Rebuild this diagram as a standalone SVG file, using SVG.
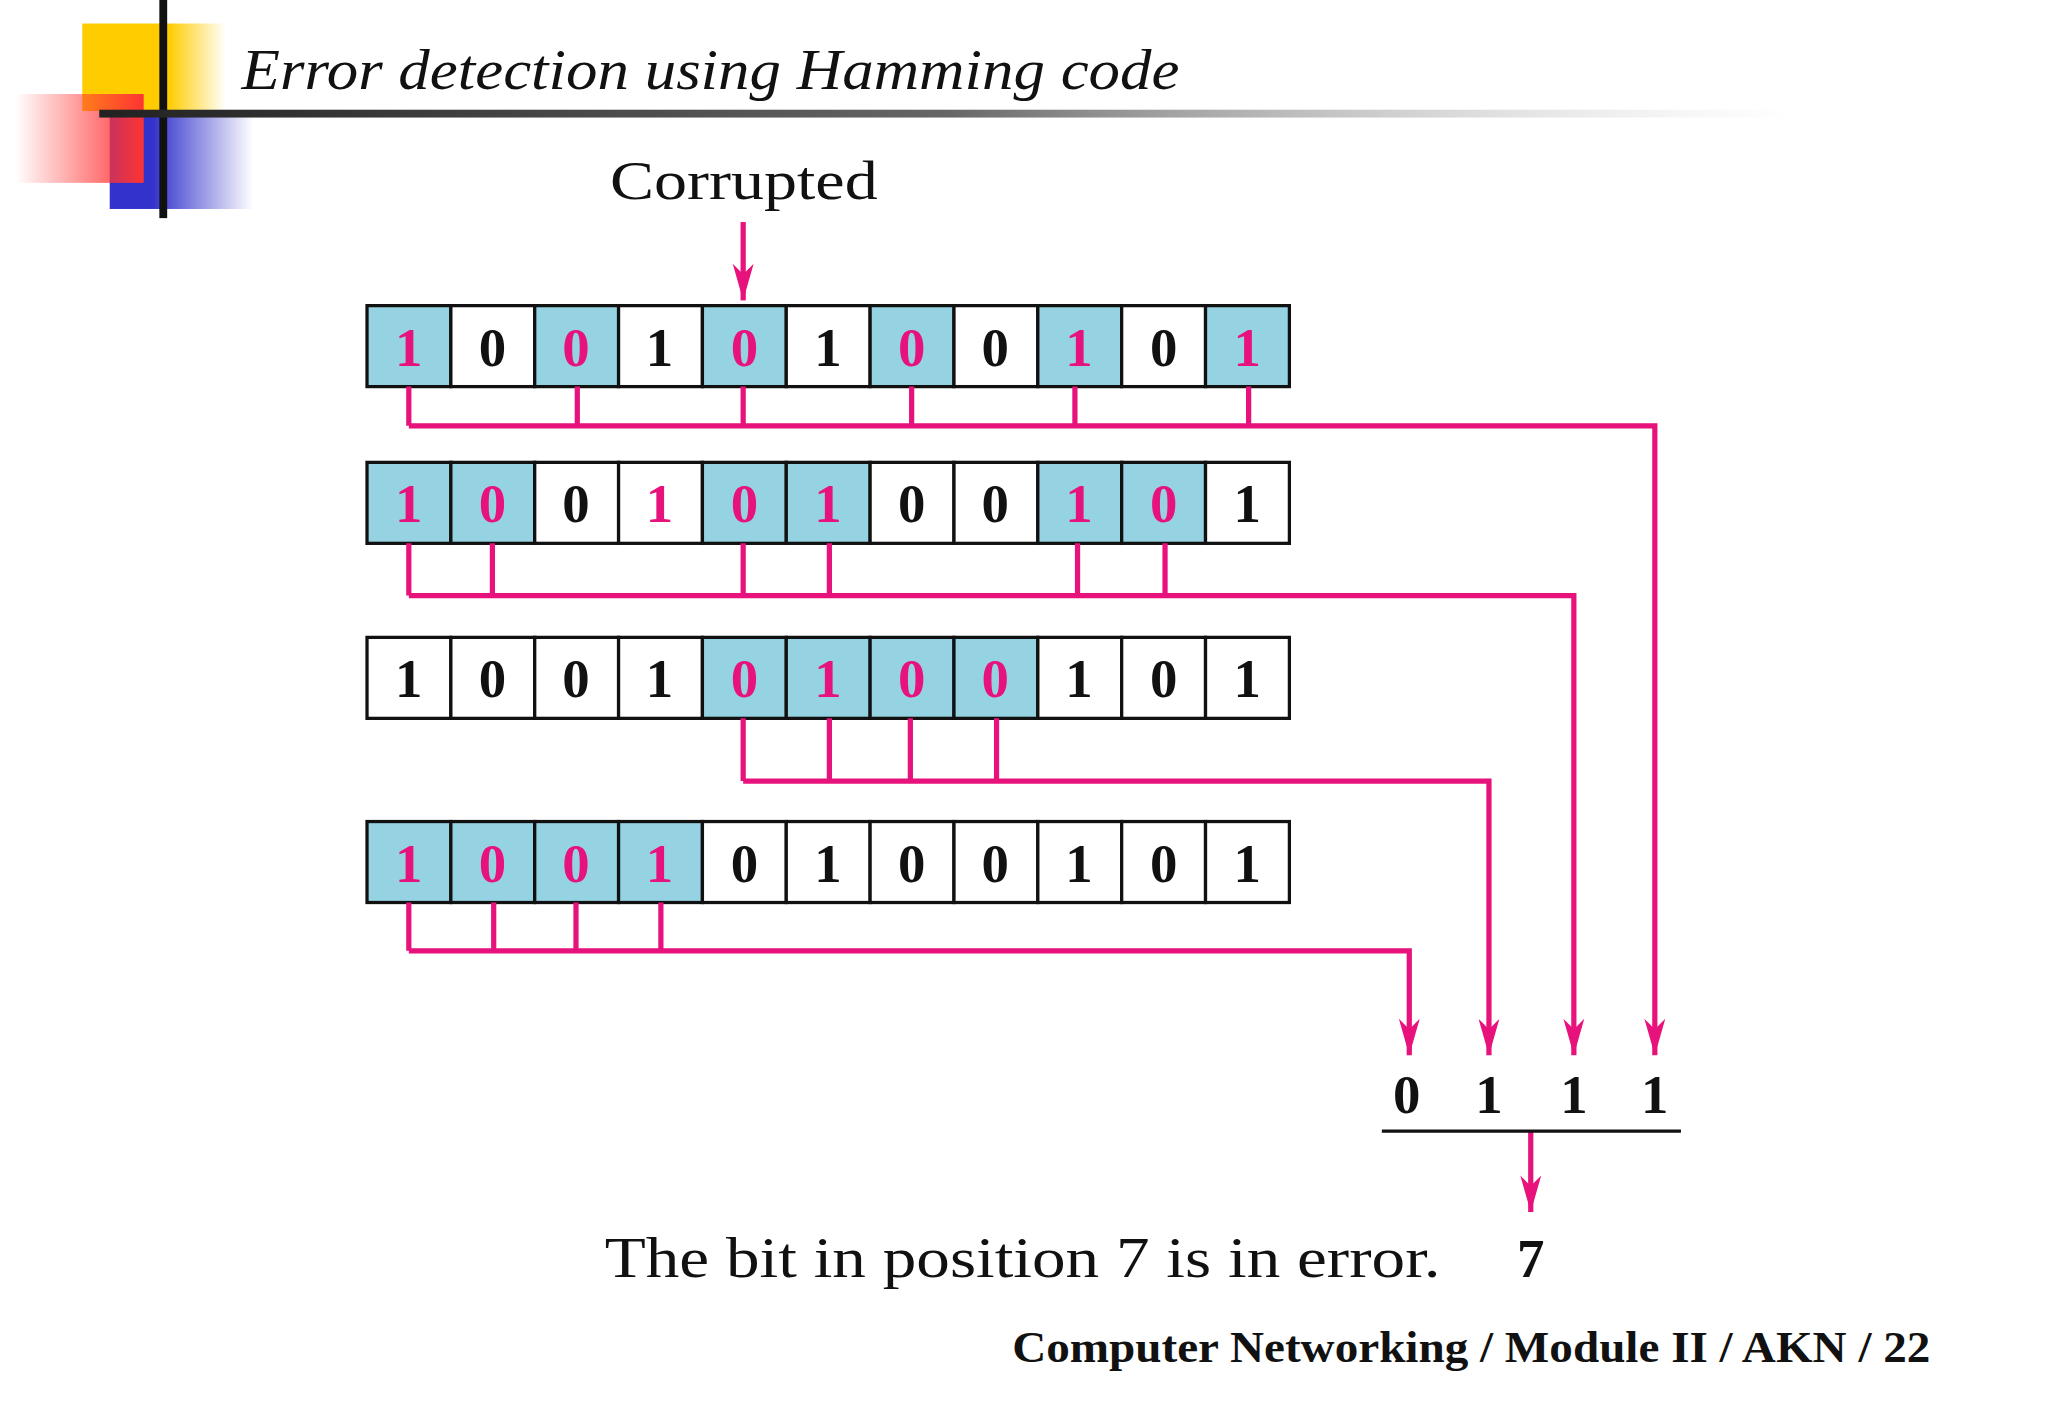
<svg xmlns="http://www.w3.org/2000/svg" width="2048" height="1418" viewBox="0 0 2048 1418">
<defs>
<style>
.c{stroke:#111;stroke-width:2.5}
.h{fill:#96d3e2}.w{fill:#fff}
.d{font-family:"Liberation Serif",serif;font-weight:bold;font-size:42px;text-anchor:middle}
.p{fill:#e8127c}.k{fill:#111}
.ln{fill:none;stroke:#e8127c;stroke-width:4}
</style>
<marker id="ad" viewBox="0 0 16 28" refX="8" refY="28" markerWidth="16" markerHeight="28" markerUnits="userSpaceOnUse"><path d="M0,0 L8,8 L16,0 L8,28 Z" fill="#e8127c"/></marker>
<linearGradient id="gr" x1="0" x2="1"><stop offset="0" stop-color="#f33"/><stop offset="1" stop-color="#f33" stop-opacity="0"/></linearGradient>
<linearGradient id="gb" x1="0" x2="1"><stop offset="0.3" stop-color="#3333cc"/><stop offset="1" stop-color="#3333cc" stop-opacity="0"/></linearGradient>
<linearGradient id="gy" x1="0" x2="1"><stop offset="0.6" stop-color="#ffcc00"/><stop offset="1" stop-color="#ffcc00" stop-opacity="0"/></linearGradient>
<linearGradient id="gl" x1="0" x2="1"><stop offset="0" stop-color="#222"/><stop offset="0.5" stop-color="#666"/><stop offset="1" stop-color="#ccc" stop-opacity="0"/></linearGradient>
</defs>
<rect width="2048" height="1418" fill="#fff"/>
<g transform="scale(1.3061)">
<g id="deco">
<rect x="63" y="18" width="110" height="67" fill="url(#gy)"/>
<rect x="84" y="85" width="110" height="75" fill="url(#gb)"/>
<rect x="12" y="72" width="98" height="68" fill="url(#gr)" transform="matrix(-1 0 0 1 122 0)"/>
<rect x="122" y="0" width="6" height="167" fill="#111"/>
<rect x="76" y="84" width="1300" height="6" fill="url(#gl)"/>
</g>
<text id="title" x="185" y="68" font-family="Liberation Serif,serif" font-style="italic" font-size="44" fill="#111" textLength="718" lengthAdjust="spacingAndGlyphs">Error detection using Hamming code</text>
<text id="corrupted" x="467" y="152" font-family="Liberation Serif,serif" font-size="42" fill="#111" textLength="205" lengthAdjust="spacingAndGlyphs">Corrupted</text>
<g id="row1">
<rect x="281" y="234" width="64.2" height="62" class="c h"/><rect x="345.2" y="234" width="64.2" height="62" class="c w"/><rect x="409.4" y="234" width="64.2" height="62" class="c h"/><rect x="473.6" y="234" width="64.2" height="62" class="c w"/><rect x="537.8" y="234" width="64.2" height="62" class="c h"/><rect x="602" y="234" width="64.2" height="62" class="c w"/><rect x="666.2" y="234" width="64.2" height="62" class="c h"/><rect x="730.4" y="234" width="64.2" height="62" class="c w"/><rect x="794.6" y="234" width="64.2" height="62" class="c h"/><rect x="858.8" y="234" width="64.2" height="62" class="c w"/><rect x="923" y="234" width="64.2" height="62" class="c h"/>
<text y="280" class="d"><tspan x="313" class="p">1</tspan><tspan x="377" class="k">0</tspan><tspan x="441" class="p">0</tspan><tspan x="505" class="k">1</tspan><tspan x="570" class="p">0</tspan><tspan x="634" class="k">1</tspan><tspan x="698" class="p">0</tspan><tspan x="762" class="k">0</tspan><tspan x="826" class="p">1</tspan><tspan x="891" class="k">0</tspan><tspan x="955" class="p">1</tspan></text>
</g>
<g id="row2">
<rect x="281" y="354" width="64.2" height="62" class="c h"/><rect x="345.2" y="354" width="64.2" height="62" class="c h"/><rect x="409.4" y="354" width="64.2" height="62" class="c w"/><rect x="473.6" y="354" width="64.2" height="62" class="c w"/><rect x="537.8" y="354" width="64.2" height="62" class="c h"/><rect x="602" y="354" width="64.2" height="62" class="c h"/><rect x="666.2" y="354" width="64.2" height="62" class="c w"/><rect x="730.4" y="354" width="64.2" height="62" class="c w"/><rect x="794.6" y="354" width="64.2" height="62" class="c h"/><rect x="858.8" y="354" width="64.2" height="62" class="c h"/><rect x="923" y="354" width="64.2" height="62" class="c w"/>
<text y="400" class="d"><tspan x="313" class="p">1</tspan><tspan x="377" class="p">0</tspan><tspan x="441" class="k">0</tspan><tspan x="505" class="p">1</tspan><tspan x="570" class="p">0</tspan><tspan x="634" class="p">1</tspan><tspan x="698" class="k">0</tspan><tspan x="762" class="k">0</tspan><tspan x="826" class="p">1</tspan><tspan x="891" class="p">0</tspan><tspan x="955" class="k">1</tspan></text>
</g>
<g id="row3">
<rect x="281" y="488" width="64.2" height="62" class="c w"/><rect x="345.2" y="488" width="64.2" height="62" class="c w"/><rect x="409.4" y="488" width="64.2" height="62" class="c w"/><rect x="473.6" y="488" width="64.2" height="62" class="c w"/><rect x="537.8" y="488" width="64.2" height="62" class="c h"/><rect x="602" y="488" width="64.2" height="62" class="c h"/><rect x="666.2" y="488" width="64.2" height="62" class="c h"/><rect x="730.4" y="488" width="64.2" height="62" class="c h"/><rect x="794.6" y="488" width="64.2" height="62" class="c w"/><rect x="858.8" y="488" width="64.2" height="62" class="c w"/><rect x="923" y="488" width="64.2" height="62" class="c w"/>
<text y="534" class="d"><tspan x="313" class="k">1</tspan><tspan x="377" class="k">0</tspan><tspan x="441" class="k">0</tspan><tspan x="505" class="k">1</tspan><tspan x="570" class="p">0</tspan><tspan x="634" class="p">1</tspan><tspan x="698" class="p">0</tspan><tspan x="762" class="p">0</tspan><tspan x="826" class="k">1</tspan><tspan x="891" class="k">0</tspan><tspan x="955" class="k">1</tspan></text>
</g>
<g id="row4">
<rect x="281" y="629" width="64.2" height="62" class="c h"/><rect x="345.2" y="629" width="64.2" height="62" class="c h"/><rect x="409.4" y="629" width="64.2" height="62" class="c h"/><rect x="473.6" y="629" width="64.2" height="62" class="c h"/><rect x="537.8" y="629" width="64.2" height="62" class="c w"/><rect x="602" y="629" width="64.2" height="62" class="c w"/><rect x="666.2" y="629" width="64.2" height="62" class="c w"/><rect x="730.4" y="629" width="64.2" height="62" class="c w"/><rect x="794.6" y="629" width="64.2" height="62" class="c w"/><rect x="858.8" y="629" width="64.2" height="62" class="c w"/><rect x="923" y="629" width="64.2" height="62" class="c w"/>
<text y="675" class="d"><tspan x="313" class="p">1</tspan><tspan x="377" class="p">0</tspan><tspan x="441" class="p">0</tspan><tspan x="505" class="p">1</tspan><tspan x="570" class="k">0</tspan><tspan x="634" class="k">1</tspan><tspan x="698" class="k">0</tspan><tspan x="762" class="k">0</tspan><tspan x="826" class="k">1</tspan><tspan x="891" class="k">0</tspan><tspan x="955" class="k">1</tspan></text>
</g>
<g id="connectors">
<path class="ln" d="M569,170 V230" marker-end="url(#ad)"/>
<path class="ln" d="M313,296 V326 M442,296 V326 M569,296 V326 M698,296 V326 M823,296 V326 M956,296 V326"/>
<path class="ln" d="M313,326 H1267 V808" marker-end="url(#ad)"/>
<path class="ln" d="M313,416 V456 M377,416 V456 M569,416 V456 M635,416 V456 M825,416 V456 M892,416 V456"/>
<path class="ln" d="M313,456 H1205 V808" marker-end="url(#ad)"/>
<path class="ln" d="M569,550 V598 M635,550 V598 M697,550 V598 M763,550 V598"/>
<path class="ln" d="M569,598 H1140 V808" marker-end="url(#ad)"/>
<path class="ln" d="M313,691 V728 M378,691 V728 M441,691 V728 M506,691 V728"/>
<path class="ln" d="M313,728 H1079 V808" marker-end="url(#ad)"/>
<path class="ln" d="M1172,866 V928" marker-end="url(#ad)"/>
</g>
<g id="result">
<text y="852" class="d k"><tspan x="1077">0</tspan><tspan x="1140">1</tspan><tspan x="1205">1</tspan><tspan x="1267">1</tspan></text>
<line x1="1058" y1="866" x2="1287" y2="866" stroke="#111" stroke-width="2.5"/>
<text x="1172" y="978" class="d k">7</text>
</g>
<text id="msg" x="463" y="978" font-family="Liberation Serif,serif" font-size="44" fill="#111" textLength="640" lengthAdjust="spacingAndGlyphs">The bit in position 7 is in error.</text>
<text id="footer" x="775" y="1043" font-family="Liberation Serif,serif" font-weight="bold" font-size="34" fill="#111" textLength="703" lengthAdjust="spacingAndGlyphs">Computer Networking / Module II / AKN / 22</text>
</g>
</svg>
